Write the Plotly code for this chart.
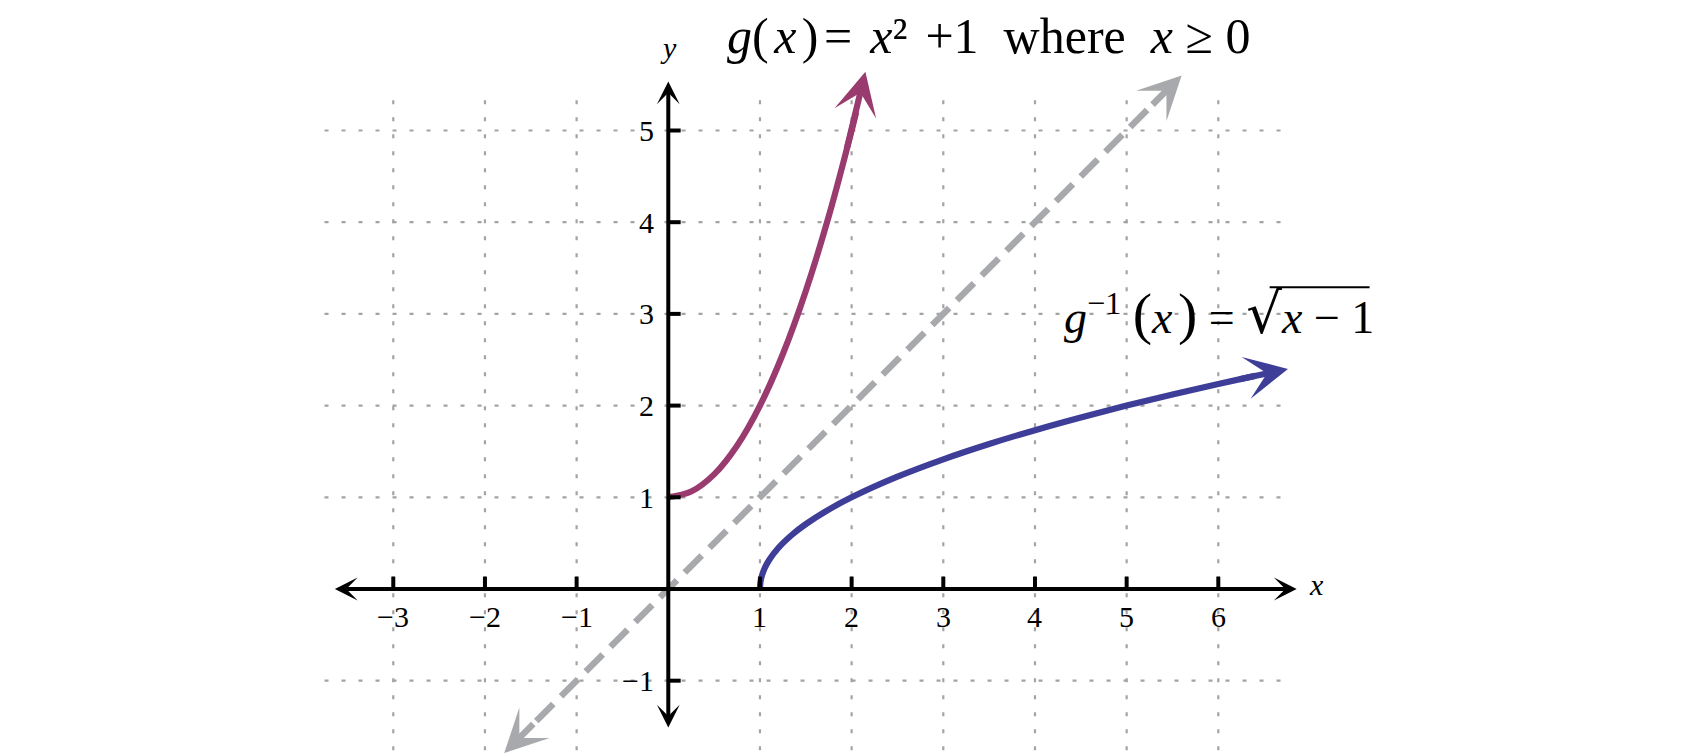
import plotly.graph_objects as go

# ---- data ----
x_ticks = [-3, -2, -1, 1, 2, 3, 4, 5, 6]
x_tick_labels = ["\u22123", "\u22122", "\u22121", "1", "2", "3", "4", "5", "6"]
y_ticks = [-1, 1, 2, 3, 4, 5]
y_tick_labels = ["\u22121", "1", "2", "3", "4", "5"]
grid_x = [-3, -2, -1, 1, 2, 3, 4, 5, 6]
grid_y = [-1, 1, 2, 3, 4, 5]

g_x = [0, 0.25, 0.5, 0.75, 1.0, 1.25, 1.5, 1.75, 2.0, 2.05]
g_y = [1, 1.0625, 1.25, 1.5625, 2.0, 2.5625, 3.25, 4.0625, 5.0, 5.2025]
g_tail = (1.92, 4.69)
g_tip = (2.15, 5.64)

ginv_x = [1, 1.005, 1.02, 1.05, 1.1, 1.2, 1.35, 1.5, 1.75, 2, 2.5, 3, 3.5, 4, 4.5, 5, 5.5, 6, 6.4]
ginv_y = [0, 0.0707, 0.1414, 0.2236, 0.3162, 0.4472, 0.5916, 0.7071, 0.8660, 1.0, 1.2247,
          1.4142, 1.5811, 1.7321, 1.8708, 2.0, 2.1213, 2.2361, 2.3238]
ginv_tail = (6.2, 2.28)
ginv_tip = (6.76, 2.40)

id_line = [-1.79, 5.60]

# ---- styling ----
MAG = "#9a3b6f"
BLU = "#3e3e99"
GRY = "#a7a9ac"
GRID = "#a3a3a3"
FONT = "Liberation Serif"
X0, X1 = -7.203, 11.342
Y0, Y1 = -1.876, 6.336

fig = go.Figure()

shapes = []
for gx in grid_x:
    shapes.append(dict(type="line", x0=gx, x1=gx, y0=-1.76, y1=5.39, xref="x", yref="y",
                       line=dict(color=GRID, width=2.2, dash="4px,13px"), layer="below"))
for gy in grid_y:
    shapes.append(dict(type="line", x0=-3.75, x1=6.73, y0=gy, y1=gy, xref="x", yref="y",
                       line=dict(color=GRID, width=2.2, dash="4px,13px"), layer="below"))
for tx in x_ticks:
    shapes.append(dict(type="line", x0=tx, x1=tx, y0=0, y1=0.135, xref="x", yref="y",
                       line=dict(color="black", width=4)))
for ty in y_ticks:
    shapes.append(dict(type="line", x0=0, x1=0.135, y0=ty, y1=ty, xref="x", yref="y",
                       line=dict(color="black", width=4)))

fig.add_trace(go.Scatter(x=[id_line[0] + 0.35, id_line[1] - 0.35], y=[id_line[0] + 0.35, id_line[1] - 0.35],
                         mode="lines", line=dict(color=GRY, width=6.5, dash="24px,11px"),
                         hoverinfo="skip", showlegend=False))
fig.add_trace(go.Scatter(x=g_x, y=g_y, mode="lines", line=dict(color=MAG, width=6.2, shape="spline"),
                         hoverinfo="skip", showlegend=False))
fig.add_trace(go.Scatter(x=ginv_x, y=ginv_y, mode="lines", line=dict(color=BLU, width=6.2, shape="spline"),
                         hoverinfo="skip", showlegend=False))

ann = []
def arrow(tail, tip, color, width, size, side="end"):
    ann.append(dict(x=tip[0], y=tip[1], ax=tail[0], ay=tail[1], xref="x", yref="y",
                    axref="x", ayref="y", showarrow=True, arrowhead=3, arrowsize=size,
                    startarrowhead=3, startarrowsize=size,
                    arrowwidth=width, arrowcolor=color, arrowside=side, text=" "))

arrow((-3.67, 0), (6.855, 0), "black", 4, 0.95, "end+start")
arrow((0, -1.62), (0, 5.535), "black", 4, 0.95, "end+start")
arrow(g_tail, g_tip, MAG, 6.2, 1.15)
arrow(ginv_tail, ginv_tip, BLU, 6.2, 1.15)
arrow((id_line[1] - 0.35, id_line[1] - 0.35), (id_line[1], id_line[1]), GRY, 6.5, 1.1)
arrow((id_line[0] + 0.35, id_line[0] + 0.35), (id_line[0], id_line[0]), GRY, 6.5, 1.1)

for tx, tl in zip(x_ticks, x_tick_labels):
    ann.append(dict(x=tx, y=-0.305, xref="x", yref="y", text=tl, showarrow=False,
                    font=dict(family=FONT, size=30, color="black"), xanchor="center", yanchor="middle"))
for ty, tl in zip(y_ticks, y_tick_labels):
    ann.append(dict(x=-0.13, y=ty, xref="x", yref="y", text=tl, showarrow=False,
                    font=dict(family=FONT, size=30, color="black"), xanchor="right", yanchor="middle"))

ann.append(dict(x=0.0, y=5.9, xref="x", yref="y", text="<i>y</i>", showarrow=False,
                font=dict(family=FONT, size=30, color="black")))
ann.append(dict(x=7.07, y=0.05, xref="x", yref="y", text="<i>x</i>", showarrow=False,
                font=dict(family=FONT, size=30, color="black")))

S = "\u00a0"
TS = "<span style='font-size:22px'>\u00a0</span>"
PT = "<span style='font-size:50px'>{}</span>"
title = ("<i>g</i>" + PT.format("(") + TS + "<i>x</i>" + TS + PT.format(")") + TS + "=" + S + TS
         + "<i>x</i>\u00b2" + S + TS + "+1" + S + S
         + "where" + S + S + "<i>x</i>" + S + "\u2265" + S + "0")
ann.append(dict(x=0.62, y=1 + 2 / 753, xref="x", yref="paper", text=title, showarrow=False,
                font=dict(family=FONT, size=50, color="black"), xanchor="left", yanchor="top"))

P = "<span style='font-size:58px'>{}</span>"
lab2 = ("<i>g</i><sup>\u22121</sup>" + S + P.format("(") + "<i>x</i>" + TS + P.format(")")
        + S + "=" + S + "<span style='font-size:56px;font-family:DejaVu Serif'>\u221a</span>"
        + "<i>x</i>" + S + "\u2212" + S + "1")
ann.append(dict(x=4.30, y=3.0, xref="x", yref="y", text=lab2, showarrow=False,
                font=dict(family=FONT, size=46, color="black"), xanchor="left", yanchor="middle"))
shapes.append(dict(type="line", x0=6.56, x1=7.65, y0=3.29, y1=3.29, xref="x", yref="y",
                   line=dict(color="black", width=2)))

fig.update_layout(
    width=1700, height=753, margin=dict(l=0, r=0, t=0, b=0),
    paper_bgcolor="white", plot_bgcolor="white",
    xaxis=dict(range=[X0, X1], visible=False, fixedrange=True),
    yaxis=dict(range=[Y0, Y1], visible=False, fixedrange=True),
    shapes=shapes, annotations=ann, showlegend=False,
)

fig.write_html("out.html")
